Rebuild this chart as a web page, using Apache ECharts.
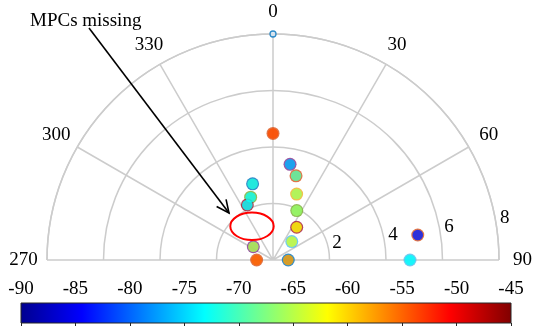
<!DOCTYPE html>
<html><head><meta charset="utf-8">
<script src="https://cdn.jsdelivr.net/npm/echarts@6/dist/echarts.min.js"></script>
<style>html,body{margin:0;padding:0;background:#fff}#c{width:539px;height:326px}</style>
</head><body><div id="c"></div>
<script>
// ---- data ----
const rangeVals = [4.48, 3.44, 3.09, 2.48, 1.94, 1.43, 0.93, 0.54, 2.79, 2.36, 2.15, 0.84, 0.58, 5.20, 4.85];
const angleVals = [0, 10.1, 15.3, 19.7, 25.7, 35.9, 45.6, 90, 345, 340.4, 335, 304, 270, 80.2, 90];
const rssVals   = [-54, -76.5, -69.5, -66, -66.5, -61.8, -64, -57.7, -71.8, -72.5, -73, -65.4, -55, -83, -73];
const edgeIdx   = [2, 4, 2, 3, 5, 7, 6, 1, 1, 5, 7, 4, 2, 2, 6];
const refRange  = [8];
const refAngle  = [0];
const angleTicks = [270, 300, 330, 0, 30, 60, 90];
const rangeTicks = [2, 4, 6, 8];
const cbarTicks  = [-90, -85, -80, -75, -70, -65, -60, -55, -50, -45];

// ---- styling ----
const FONT = "'Liberation Serif', 'Times New Roman', serif";
const FS = 19;
const jetColors = ['#00008f', '#0000ff', '#0080ff', '#00ffff', '#80ff80', '#ffff00', '#ff8000', '#ff0000', '#800000'];
const lineColors = ['#0072BD', '#D95319', '#EDB120', '#7E2F8E', '#77AC30', '#4DBEEE', '#A2142F'];
const GRID = '#cccccc';

const toAxisAngle = a => (a > 180 ? a - 360 : a);
const fillData = rangeVals.map((r, i) => [r, toAxisAngle(angleVals[i]), rssVals[i]]);
const edgeData = rangeVals.map((r, i) => [r, toAxisAngle(angleVals[i]), edgeIdx[i]]);
const refData = refRange.map((r, i) => [r, toAxisAngle(refAngle[i])]);

const angRich = {
  a0:   {width: 40, height: 43, lineHeight: 43, align: 'center'},
  a30:  {width: 22, height: 38, lineHeight: 38, align: 'center'},
  a60:  {width: 40, height: 23, lineHeight: 23, align: 'center'},
  a90:  {width: 47, height: 20, lineHeight: 20, align: 'center'},
  a270: {width: 47, height: 20, lineHeight: 20, align: 'center'},
  a300: {width: 42, height: 24, lineHeight: 24, align: 'center'},
  a330: {width: 22, height: 38, lineHeight: 38, align: 'center'}
};
Object.keys(angRich).forEach(k => { angRich[k].fontSize = FS; angRich[k].fontFamily = FONT; angRich[k].color = '#000'; });

const chart = echarts.init(document.getElementById('c'), null, {renderer: 'canvas'});

// arrow geometry (annotation)
const arrowFrom = [89, 28], arrowTo = [229, 213];
const ang = Math.atan2(arrowTo[1] - arrowFrom[1], arrowTo[0] - arrowFrom[0]);
const headLen = 14, headSpread = 25 * Math.PI / 180;
const headL = [arrowTo[0] - headLen * Math.cos(ang - headSpread), arrowTo[1] - headLen * Math.sin(ang - headSpread)];
const headR = [arrowTo[0] - headLen * Math.cos(ang + headSpread), arrowTo[1] - headLen * Math.sin(ang + headSpread)];

chart.setOption({
  animation: false,
  backgroundColor: '#fff',
  textStyle: {fontFamily: FONT},
  polar: [
    {center: [273, 260], radius: 226},
    {center: [273, 260], radius: 226}
  ],
  angleAxis: [
    {
      polarIndex: 0, type: 'value', min: -90, max: 90, interval: 30,
      startAngle: 180, endAngle: 0, clockwise: true,
      axisLine: {show: true, lineStyle: {color: GRID, width: 1.5}},
      axisTick: {show: false},
      splitLine: {show: true, lineStyle: {color: GRID, width: 1.5}},
      axisLabel: {
        margin: 0, fontSize: FS, fontFamily: FONT, color: '#000',
        formatter: v => { const d = v < 0 ? v + 360 : v; return '{a' + d + '|' + d + '}'; },
        rich: angRich
      }
    },
    {polarIndex: 1, type: 'value', min: 0, max: 360, startAngle: 8.5, show: false}
  ],
  radiusAxis: [
    {
      polarIndex: 0, type: 'value', min: 0, max: 8, interval: 2,
      axisLine: {show: false}, axisTick: {show: false}, axisLabel: {show: false},
      splitLine: {show: true, lineStyle: {color: GRID, width: 1.5}}
    },
    {
      polarIndex: 1, type: 'value', min: rangeTicks[0] - 2, max: rangeTicks[rangeTicks.length - 1], interval: 2,
      axisLine: {show: false}, axisTick: {show: false}, splitLine: {show: false},
      axisLabel: {
        show: true, showMinLabel: false, margin: 8.5, align: 'left', verticalAlign: 'middle',
        fontSize: FS, fontFamily: FONT, color: '#000',
        formatter: v => '{r|' + v + '}',
        rich: {r: {width: 19, align: 'center', fontSize: FS, fontFamily: FONT, color: '#000'}}
      }
    }
  ],
  grid: {left: 21, top: 303, width: 490, height: 20},
  xAxis: {
    type: 'value', position: 'top', min: cbarTicks[0], max: cbarTicks[cbarTicks.length - 1], interval: 5, z: 5,
    axisLine: {show: false},
    axisTick: {show: true, inside: true, length: 4, lineStyle: {color: '#262626', width: 1}},
    splitLine: {show: false},
    axisLabel: {margin: 4, fontSize: FS, fontFamily: FONT, color: '#000'}
  },
  yAxis: {type: 'value', min: 0, max: 1, show: false},
  visualMap: [
    {type: 'continuous', show: false, seriesIndex: 2, dimension: 2, min: cbarTicks[0], max: cbarTicks[cbarTicks.length - 1], inRange: {color: jetColors}},
    {type: 'piecewise', show: false, seriesIndex: 1, dimension: 2, pieces: lineColors.map((c, i) => ({value: i + 1, color: c}))}
  ],
  series: [
    {
      type: 'custom', coordinateSystem: 'cartesian2d', silent: true, z: 1,
      data: [[cbarTicks[0], cbarTicks[cbarTicks.length - 1]]],
      renderItem: (params, api) => {
        const p0 = api.coord([api.value(0), 1]);
        const p1 = api.coord([api.value(1), 0]);
        return {
          type: 'rect',
          shape: {x: p0[0], y: p0[1], width: p1[0] - p0[0], height: p1[1] - p0[1]},
          style: {
            fill: new echarts.graphic.LinearGradient(0, 0, 1, 0,
              jetColors.map((c, i) => ({offset: i / (jetColors.length - 1), color: c}))),
            stroke: '#262626', lineWidth: 1
          }
        };
      }
    },
    {type: 'scatter', coordinateSystem: 'polar', polarIndex: 0, symbol: 'circle', symbolSize: 13, data: edgeData, z: 3, silent: true},
    {type: 'scatter', coordinateSystem: 'polar', polarIndex: 0, symbol: 'circle', symbolSize: 10.6, data: fillData, z: 4, silent: true},
    {type: 'scatter', coordinateSystem: 'polar', polarIndex: 0, symbol: 'circle', symbolSize: 6, data: refData, z: 4, silent: true,
     itemStyle: {color: '#d8e6f2', borderColor: '#0072BD', borderWidth: 1.3}}
  ],
  graphic: [
    {type: 'text', x: 30, y: 21, z: 100, style: {text: 'MPCs missing', font: FS + "px 'Liberation Serif'", fill: '#000', align: 'left', verticalAlign: 'middle'}},
    {type: 'polyline', z: 100, shape: {points: [arrowFrom, arrowTo]}, style: {stroke: '#000', lineWidth: 1.6, fill: 'none'}},
    {type: 'polyline', z: 100, shape: {points: [headL, arrowTo, headR]}, style: {stroke: '#000', lineWidth: 1.6, fill: 'none'}},
    {type: 'ellipse', z: 100, shape: {cx: 252, cy: 226.3, rx: 21.7, ry: 13.7}, style: {stroke: '#ff0000', lineWidth: 2, fill: 'none'}}
  ]
});
</script>
</body></html>
